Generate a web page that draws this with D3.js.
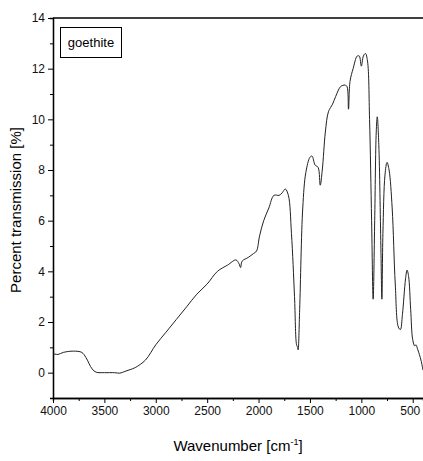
<!DOCTYPE html><html><head><meta charset="utf-8">
<script src="https://cdn.jsdelivr.net/npm/d3@7"></script>
<style>body{margin:0;background:#fff}svg{font-family:Arial,"Liberation Sans",sans-serif}</style></head><body>
<svg id="c" width="423" height="461"></svg>
<script>
const wavenumbers=[4000,3950,3900,3800,3720,3680,3620,3580,3500,3400,3350,3300,3250,3200,3100,3000,2900,2800,2700,2600,2500,2400,2300,2220,2190,2175,2160,2100,2050,2020,1990,1950,1900,1850,1800,1770,1740,1710,1680,1650,1630,1620,1615,1600,1570,1540,1500,1480,1450,1420,1400,1380,1350,1320,1280,1250,1200,1160,1140,1125,1110,1080,1040,1020,1000,980,960,940,920,900,885,870,855,845,830,810,800,790,770,750,730,700,670,640,620,600,570,555,540,520,500,480,470,450,420,400];
const transmission=[0.75,0.72,0.8,0.85,0.8,0.6,0.15,0.02,0.0,0.0,-0.02,0.05,0.12,0.2,0.5,1.1,1.6,2.1,2.6,3.1,3.5,4.0,4.25,4.45,4.3,4.15,4.4,4.55,4.7,4.8,5.4,6.0,6.5,7.0,7.0,7.1,7.25,7.0,5.5,3.0,1.1,1.0,0.9,2.5,6.5,7.9,8.5,8.55,8.2,8.1,7.4,8.0,9.5,10.3,10.6,10.9,11.3,11.35,11.3,10.4,11.5,12.0,12.5,12.5,12.1,12.5,12.6,12.3,10.0,6.0,2.9,6.0,9.5,10.1,9.0,5.0,2.9,5.5,7.8,8.3,8.0,6.5,3.5,1.8,1.7,2.3,3.7,4.05,3.8,2.5,1.3,1.05,1.1,0.9,0.5,0.1];
const xTicks=[4000,3500,3000,2500,2000,1500,1000,500];
const yTicks=[0,2,4,6,8,10,12,14];
const svg=d3.select("#c");
const x=d3.scaleLinear().domain([4000,400]).range([53,423]);
const y=d3.scaleLinear().domain([-1,14]).range([398,18]);
const g=svg.append("g");
g.append("g").attr("transform","translate(0,398)").call(d3.axisBottom(x).tickValues(xTicks).tickSize(5).tickSizeOuter(0).tickFormat(d3.format("d")));
g.append("g").attr("transform","translate(0,398)").call(d3.axisBottom(x).tickValues(d3.range(3750,400,-500)).tickSize(3).tickFormat(""));
g.append("g").attr("transform","translate(53,0)").call(d3.axisLeft(y).tickValues(yTicks).tickSize(5).tickSizeOuter(0));
g.append("g").attr("transform","translate(53,0)").call(d3.axisLeft(y).tickValues([-1,1,3,5,7,9,11,13]).tickSize(3).tickFormat(""));
g.selectAll(".domain").attr("stroke","#000").attr("stroke-width",1.3);
g.selectAll(".tick text").attr("font-size",12).attr("fill","#111");
g.selectAll(".tick text").filter(d=>d===500).attr("dx",-3);
svg.append("line").attr("x1",53).attr("x2",423).attr("y1",18).attr("y2",18).attr("stroke","#000").attr("stroke-width",1.5);
svg.append("path").datum(wavenumbers.map((w,i)=>[w,transmission[i]]))
 .attr("d",d3.line().x(d=>x(d[0])).y(d=>y(d[1])).curve(d3.curveCatmullRom))
 .attr("fill","none").attr("stroke","#222").attr("stroke-width",1);
svg.append("rect").attr("x",60.5).attr("y",27.5).attr("width",61).attr("height",30).attr("fill","#fff").attr("stroke","#000");
svg.append("text").attr("x",91).attr("y",47).attr("text-anchor","middle").attr("font-size",13).text("goethite");
svg.append("text").attr("transform","translate(21,210) rotate(-90)").attr("text-anchor","middle").attr("font-size",15).text("Percent transmission [%]");
const xl=svg.append("text").attr("x",238).attr("y",451).attr("text-anchor","middle").attr("font-size",15);
xl.append("tspan").text("Wavenumber [cm");
xl.append("tspan").attr("dy",-6).attr("font-size",9).text("-1");
xl.append("tspan").attr("dy",6).text("]");
</script></body></html>
